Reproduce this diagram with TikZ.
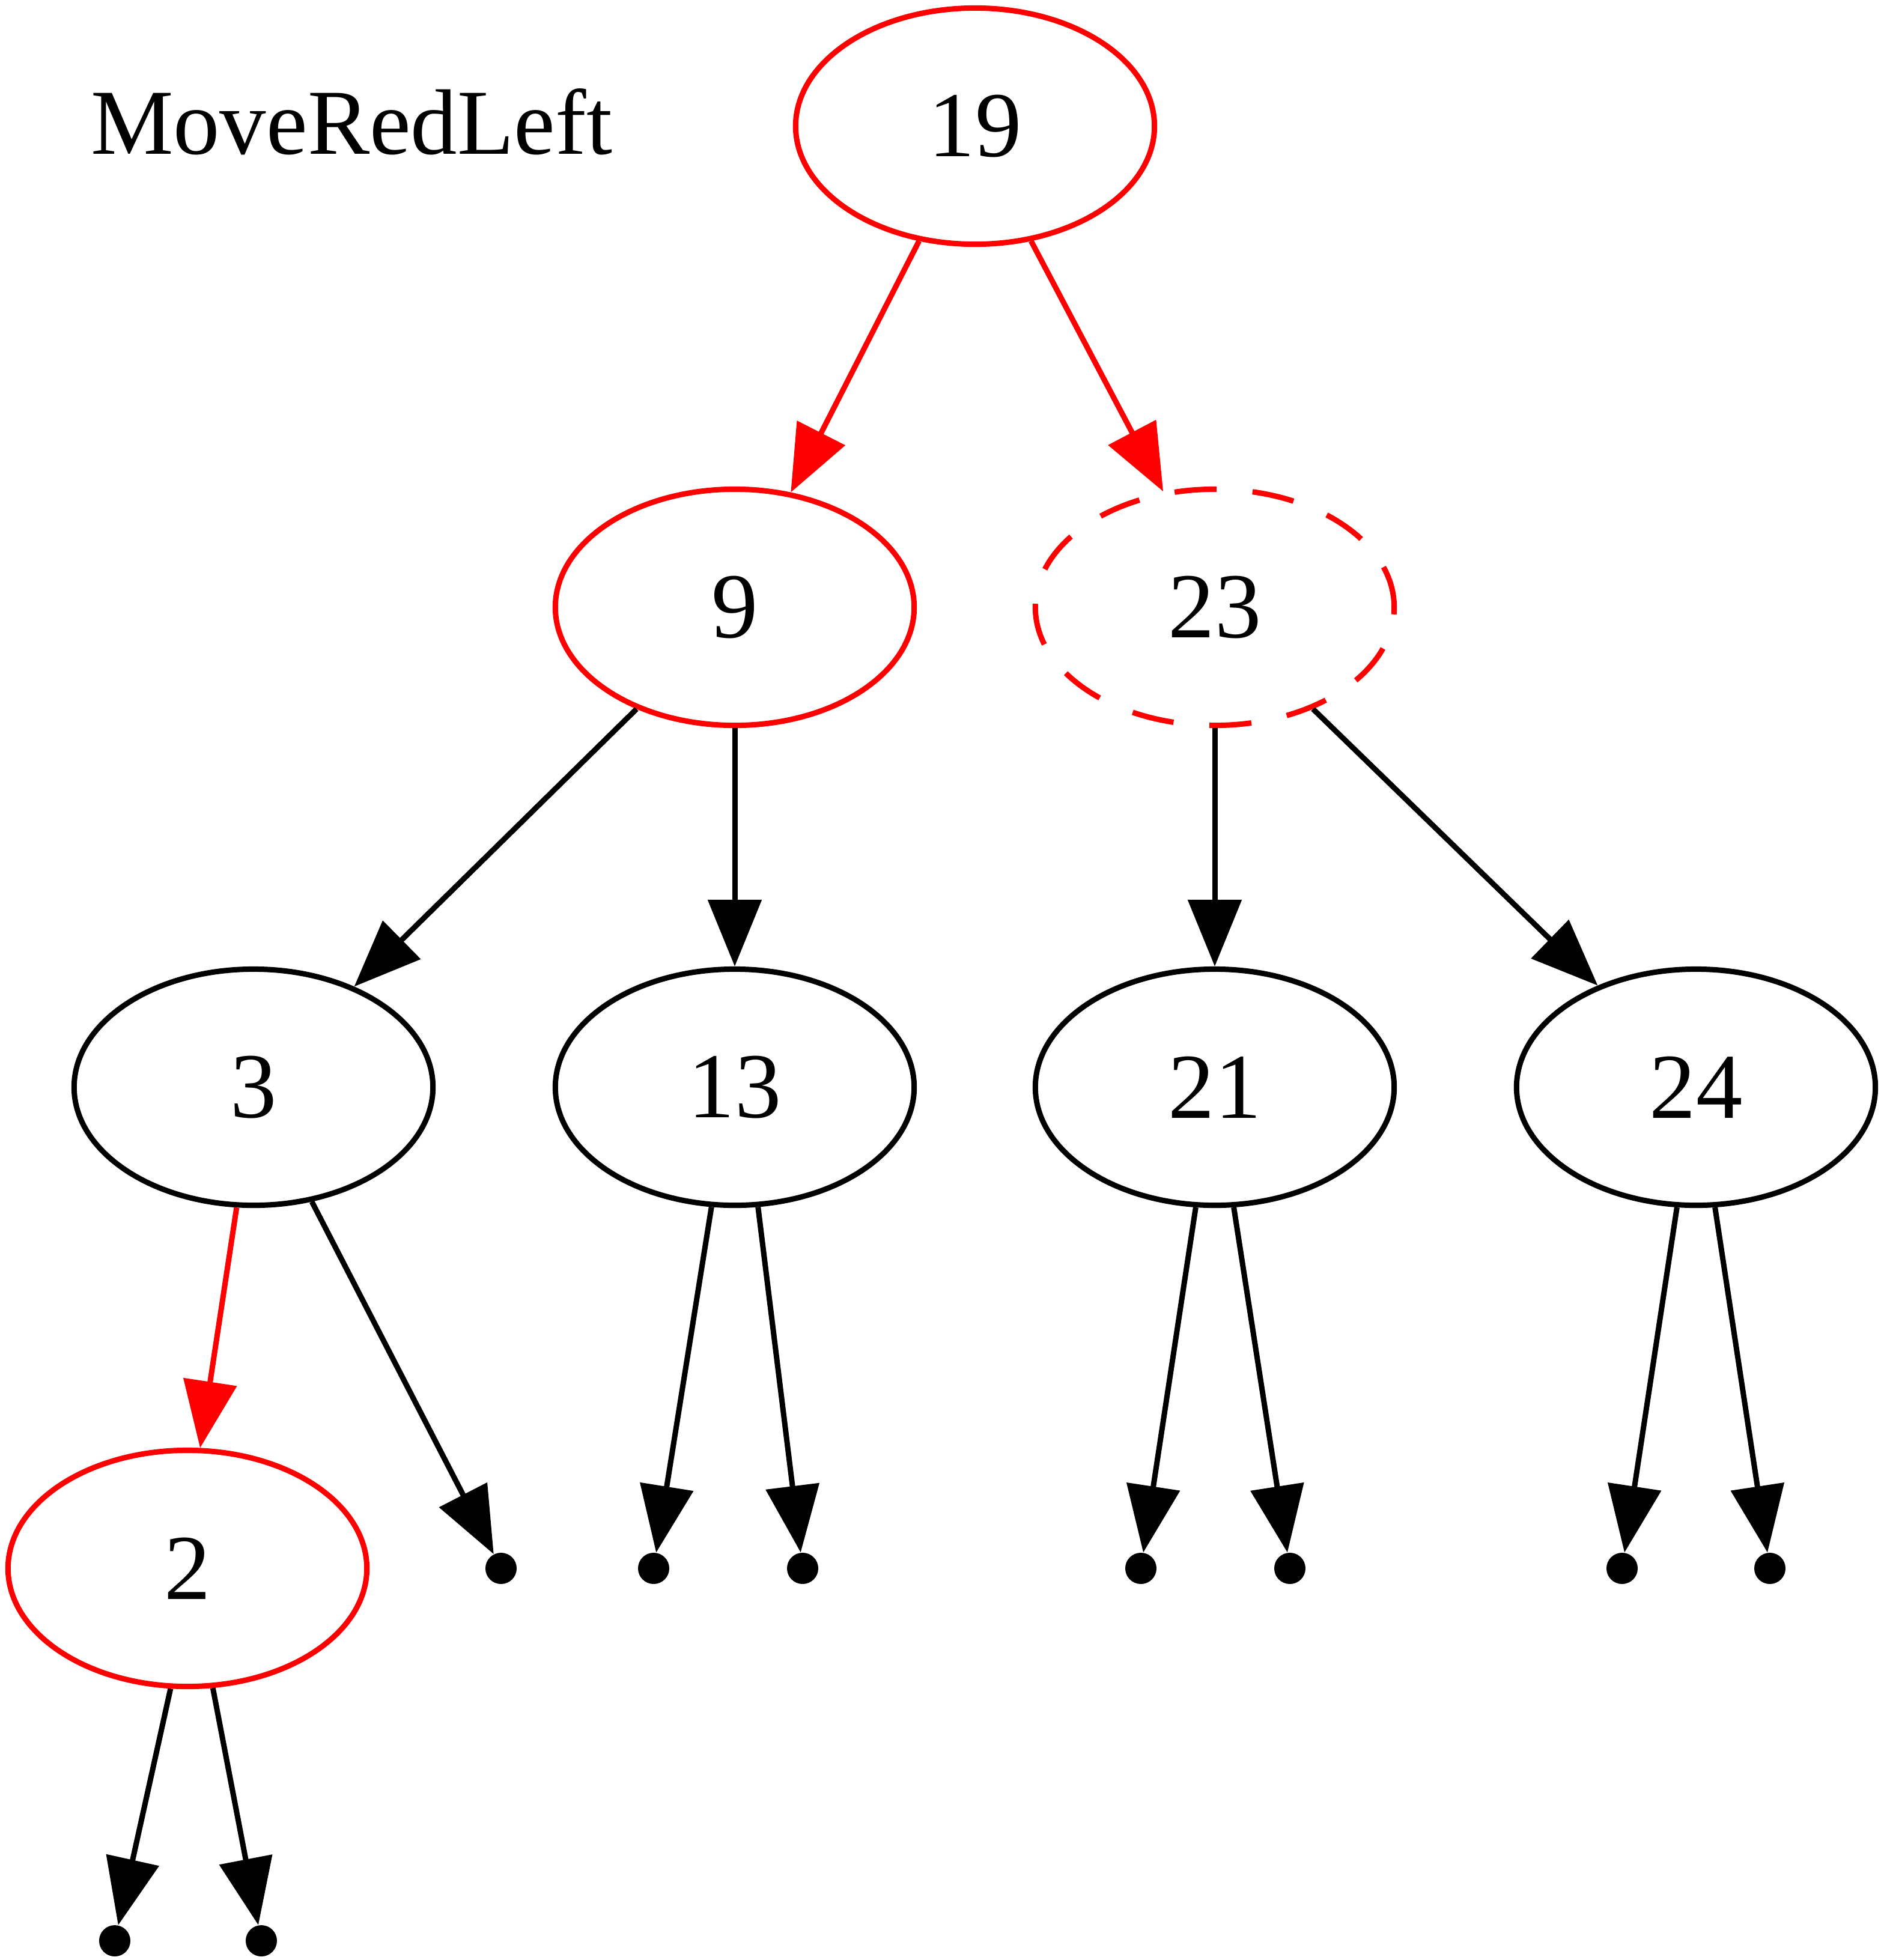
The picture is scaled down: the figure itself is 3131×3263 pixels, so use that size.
\documentclass[tikz,border=0pt]{standalone}
\usepackage{fontspec}
\setmainfont{Liberation Serif}
\usetikzlibrary{shapes.geometric,arrows.meta}
\tikzset{
  treenode/.style={ellipse, draw, line width=0.09cm, minimum width=5.97cm, minimum height=3.93cm, inner sep=0pt, font=\fontsize{44}{52}\selectfont},
  rednode/.style={treenode, draw=red},
  dashnode/.style={treenode, draw=red, dash pattern=on 0.7cm off 0.6cm},
  leafpt/.style={circle, fill=black, draw=none, inner sep=0pt, minimum size=0.52cm},
  conn/.style={line width=0.09cm, draw=black, -{Triangle[length=1.11cm, width=0.88cm]}},
  redconn/.style={conn, draw=red, fill=red}
}
\begin{document}
\begin{tikzpicture}[x=0.01cm, y=-0.01cm]
\useasboundingbox (0,0) rectangle (3131,3263);
\node[anchor=base, font=\fontsize{44}{52}\selectfont] (title) at (585,256) {MoveRedLeft};
\node[rednode] (n19) at (1623,210) {19};
\node[rednode] (n9) at (1223,1011) {9};
\node[dashnode] (n23) at (2022,1011) {23};
\node[treenode] (n3) at (422,1810) {3};
\node[treenode] (n13) at (1223,1810) {13};
\node[treenode] (n21) at (2022,1810) {21};
\node[treenode] (n24) at (2823,1810) {24};
\node[rednode] (n2) at (312,2611) {2};
\node[leafpt] (p3r) at (834,2611) {};
\node[leafpt] (p13l) at (1088,2611) {};
\node[leafpt] (p13r) at (1336,2611) {};
\node[leafpt] (p21l) at (1899,2611) {};
\node[leafpt] (p21r) at (2147,2611) {};
\node[leafpt] (p24l) at (2700,2611) {};
\node[leafpt] (p24r) at (2946,2611) {};
\node[leafpt] (p2l) at (191,3231) {};
\node[leafpt] (p2r) at (435,3231) {};
\draw[redconn] (n19.244.4) -- (n9.64.7);
\draw[redconn] (n19.296) -- (n23.114.3);
\draw[conn] (n9.226.4) -- (n3.45);
\draw[conn] (n9.270) -- (n13.90);
\draw[conn] (n23.270) -- (n21.90);
\draw[conn] (n23.314.3) -- (n24.134.6);
\draw[redconn] (n3.262.3) -- (n2.84);
\draw[conn] (n3.297) -- (p3r);
\draw[conn] (n13.259.4) -- (p13l);
\draw[conn] (n13.281) -- (p13r);
\draw[conn] (n21.261) -- (p21l);
\draw[conn] (n21.279.5) -- (p21r);
\draw[conn] (n24.261) -- (p24l);
\draw[conn] (n24.279.5) -- (p24r);
\draw[conn] (n2.262) -- (p2l);
\draw[conn] (n2.282) -- (p2r);
\end{tikzpicture}
\end{document}
